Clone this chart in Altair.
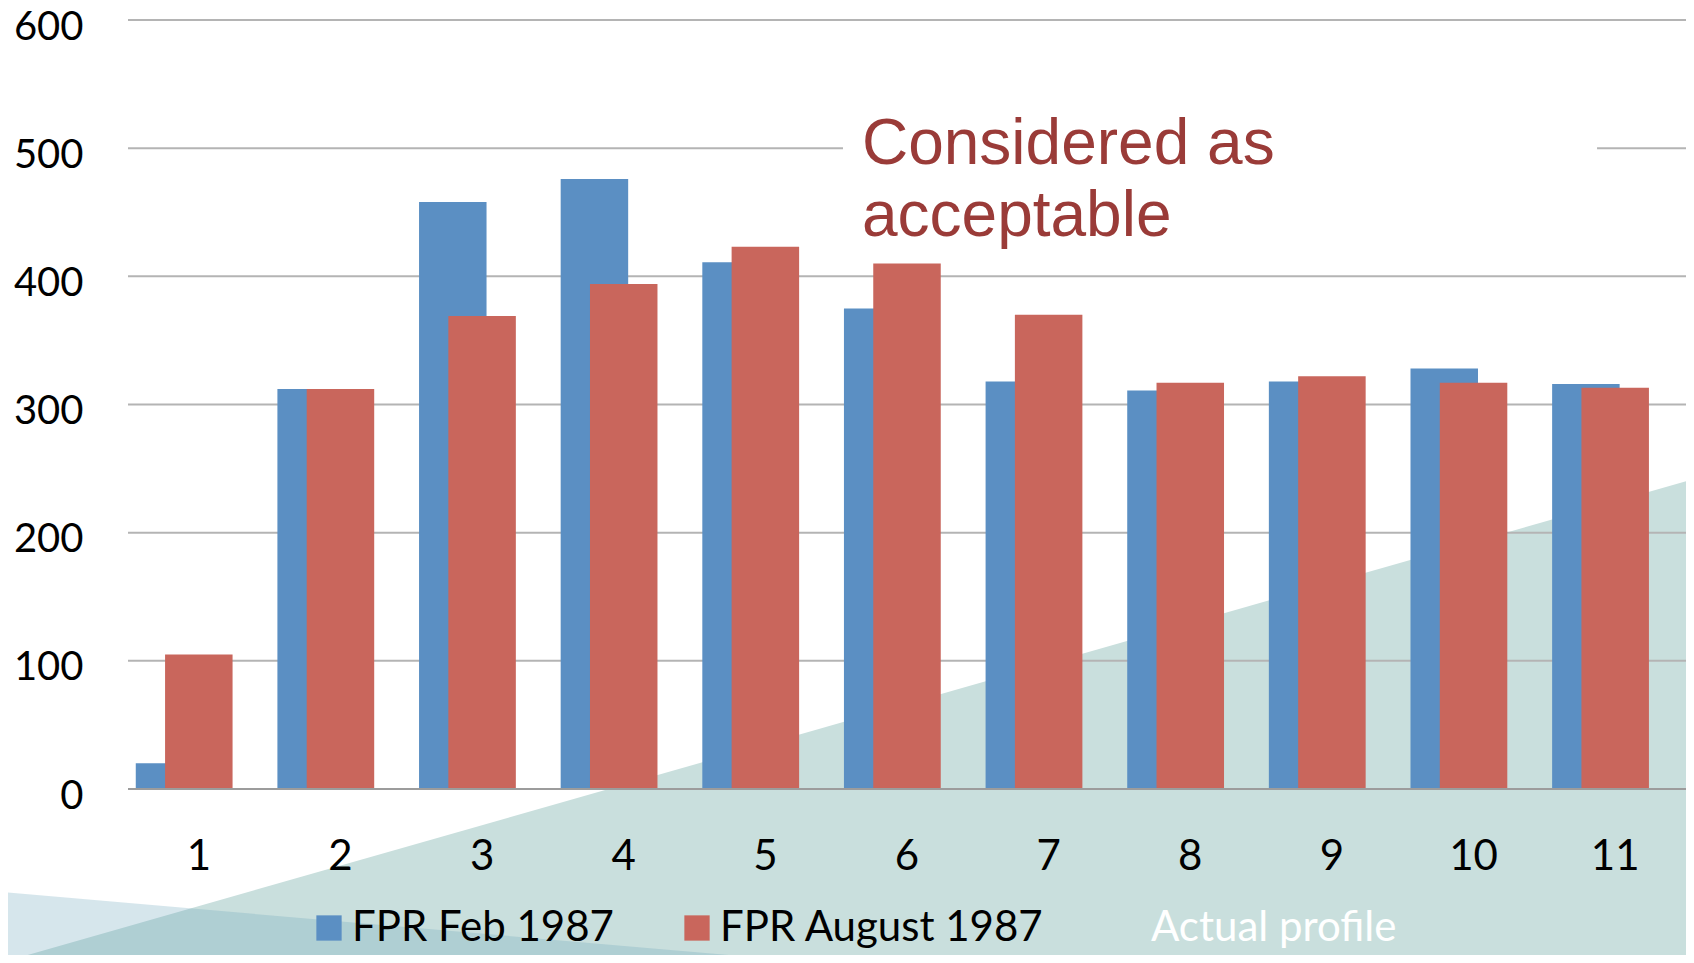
import altair as alt
import pandas as pd

# ---------------- data ----------------
categories = [1, 2, 3, 4, 5, 6, 7, 8, 9, 10, 11]
fpr_feb_1987 = [20, 312, 458, 476, 411, 375, 318, 311, 318, 328, 316]
fpr_aug_1987 = [105, 312, 369, 394, 423, 410, 370, 317, 322, 317, 313]
y_ticks = [0, 100, 200, 300, 400, 500, 600]
grid_values = [100, 200, 300, 400, 500, 600]
series_names = ["FPR Feb 1987", "FPR August 1987", "Actual profile"]
annotation_text = "Considered as\nacceptable"

# decorative background shapes, in category / value units
teal_x = [-0.404, 11.557]
teal_top = [-135.7, 241.9]
blue_x = [-0.404, 5.386]
blue_top = [-80.3, -135.7]
shape_bottom = -135.7
# white box behind the annotation and the annotation anchor (category / value units)
box_x = [5.548, 10.872]
box_y = [455, 560]
anno_x = 5.682
anno_y = 487.6

# ---------------- style ----------------
BLUE = "#5b8fc3"
RED = "#c9665c"
TEAL = "#c9dfdd"
LIGHTBLUE = "rgb(108,165,187)"
GRID = "#b4b4b4"
AXIS_FONT = "Lato, sans-serif"
W, H = 1558, 769

feb_df = pd.DataFrame({"cat": categories, "value": fpr_feb_1987, "series": series_names[0]})
aug_df = pd.DataFrame({"cat": categories, "value": fpr_aug_1987, "series": series_names[1]})
teal_df = pd.DataFrame({"x": teal_x, "value": teal_top, "y2": [shape_bottom] * 2})
lblue_df = pd.DataFrame({"x": blue_x, "value": blue_top, "y2": [shape_bottom] * 2})
grid_df = pd.DataFrame({"value": grid_values})
base_df = pd.DataFrame({"value": [0]})
box_df = pd.DataFrame({"x": [box_x[0]], "x2": [box_x[1]], "value": [box_y[0]], "y2": [box_y[1]]})
anno_df = pd.DataFrame({"x": [anno_x], "value": [anno_y], "t": [annotation_text]})

yscale = alt.Scale(domain=[0, 600], nice=False, zero=False)
xq = alt.Scale(domain=[0.5, 11.5], nice=False, zero=False)

yaxis_def = alt.Axis(
    title=None, values=y_ticks, grid=False, domain=False, ticks=False, tickSize=0,
    labelFont=AXIS_FONT, labelFontSize=40, labelColor="#000000",
    labelBaseline="middle", labelPadding=45, labelOffset=7, zindex=1,
)


def Y():
    return alt.Y("value:Q", scale=yscale, axis=yaxis_def)


teal = alt.Chart(teal_df).mark_area(color=TEAL, clip=False).encode(
    x=alt.X("x:Q", scale=xq, axis=None),
    y=Y(),
    y2="y2:Q",
)
lblue = alt.Chart(lblue_df).mark_area(color=LIGHTBLUE, opacity=0.28, clip=False).encode(
    x=alt.X("x:Q", scale=xq, axis=None),
    y=Y(),
    y2="y2:Q",
)
grid = alt.Chart(grid_df).mark_rule(color=GRID, strokeWidth=2).encode(
    y=Y(),
    x=alt.value(0),
    x2=alt.value(W),
)
baseline = alt.Chart(base_df).mark_rule(color="#9c9c9c", strokeWidth=2).encode(
    y=Y(),
    x=alt.value(0),
    x2=alt.value(W),
)
box = alt.Chart(box_df).mark_rect(color="white").encode(
    x=alt.X("x:Q", scale=xq, axis=None),
    x2="x2:Q",
    y=Y(),
    y2="y2:Q",
)
anno = alt.Chart(anno_df).mark_text(
    align="left", baseline="alphabetic", font="Liberation Sans, Arial, sans-serif",
    fontSize=64, lineHeight=72, lineBreak="\n", color="#9a3b38",
).encode(
    x=alt.X("x:Q", scale=xq, axis=None),
    y=Y(),
    text="t:N",
)

background = alt.layer(teal, lblue, grid, box, anno)

xband = alt.X(
    "cat:O",
    scale=alt.Scale(paddingInner=0, paddingOuter=0),
    sort=categories,
    axis=alt.Axis(
        title=None, labelAngle=0, domain=False, ticks=False, tickSize=0,
        labelFont=AXIS_FONT, labelFontSize=42, labelColor="#000000",
        labelBaseline="middle", labelPadding=67, zindex=1,
    ),
)
color = alt.Color(
    "series:N",
    scale=alt.Scale(domain=series_names, range=[BLUE, RED, TEAL]),
    legend=alt.Legend(
        title=None, orient="none", direction="horizontal", legendX=180, legendY=887,
        symbolType="square", symbolSize=640, symbolStrokeWidth=0,
        labelFont=AXIS_FONT, labelFontSize=42, labelLimit=1000, labelOffset=2,
        columnPadding=62, padding=0,
        labelColor={"expr": "datum.label === 'Actual profile' ? '#ffffff' : '#000000'"},
    ),
)

bars_feb = alt.Chart(feb_df).mark_bar(width=67.5, xOffset=-29.3).encode(x=xband, y=Y(), color=color)
bars_aug = alt.Chart(aug_df).mark_bar(width=67.5, xOffset=0).encode(x=xband, y=Y(), color=color)

bars = alt.layer(bars_feb, bars_aug, baseline)

chart = alt.layer(background, bars).resolve_scale(x="independent").properties(
    width=W,
    height=H,
    autosize=alt.AutoSizeParams(type="none"),
    padding={"left": 120, "top": 12, "right": 0, "bottom": 166},
).configure_view(stroke=None)

chart.save("out.html", embed_options={"renderer": "svg", "actions": False})
